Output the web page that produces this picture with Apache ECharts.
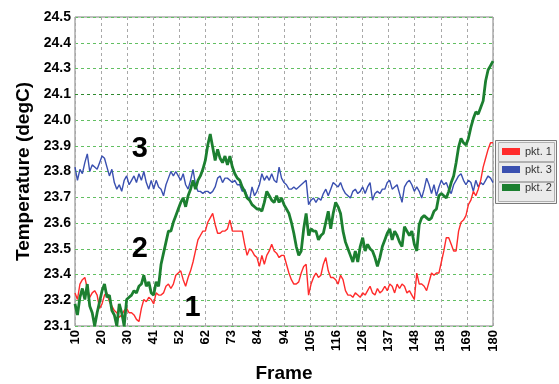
<!DOCTYPE html>
<html>
<head>
<meta charset="utf-8">
<script src="https://cdn.jsdelivr.net/npm/echarts@6/dist/echarts.min.js"></script>
<style>
  html, body { margin: 0; padding: 0; background: #ffffff; }
  #chart { width: 559px; height: 384px; }
</style>
</head>
<body>
<div id="chart"></div>
<script>
// Frame range and axis tick labels
const frameStart = 10;
const frameEnd = 180;
const xTickLabels = ['10', '20', '30', '41', '52', '62', '73', '84', '94', '105', '116', '126', '137', '148', '158', '169', '180'];
const yTickLabels = ['23.1', '23.2', '23.4', '23.5', '23.6', '23.7', '23.8', '23.9', '24.0', '24.1', '24.3', '24.4', '24.5'];
const tempMin = 23.1;
const tempMax = 24.5;

// Temperatures (degC), one value per frame, frames 10..180
const pkt1 = [
  23.25, 23.22, 23.29, 23.31, 23.32, 23.27, 23.23, 23.25, 23.26, 23.24,
  23.18, 23.20, 23.24, 23.25, 23.21, 23.19, 23.17, 23.16, 23.14, 23.15,
  23.17, 23.18, 23.16, 23.16, 23.15, 23.13, 23.12, 23.18, 23.22, 23.21,
  23.23, 23.22, 23.20, 23.25, 23.24, 23.24, 23.25, 23.28, 23.29, 23.27,
  23.29, 23.33, 23.34, 23.35, 23.31, 23.28, 23.32, 23.35, 23.39, 23.44,
  23.49, 23.51, 23.53, 23.53, 23.57, 23.59, 23.61, 23.56, 23.52, 23.52,
  23.53, 23.53, 23.54, 23.58, 23.53, 23.53, 23.53, 23.53, 23.53, 23.47,
  23.42, 23.45, 23.44, 23.42, 23.41, 23.37, 23.42, 23.38, 23.42, 23.44,
  23.47, 23.44, 23.43, 23.41, 23.42, 23.42, 23.38, 23.34, 23.31, 23.29,
  23.29, 23.30, 23.34, 23.37, 23.38, 23.24, 23.29, 23.32, 23.34, 23.32,
  23.33, 23.38, 23.41, 23.35, 23.32, 23.32, 23.31, 23.29, 23.33, 23.31,
  23.26, 23.24, 23.24, 23.23, 23.25, 23.24, 23.23, 23.25, 23.24, 23.26,
  23.28, 23.25, 23.24, 23.27, 23.25, 23.26, 23.28, 23.26, 23.29, 23.28,
  23.25, 23.29, 23.27, 23.29, 23.28, 23.25, 23.26, 23.24, 23.22, 23.34,
  23.29, 23.29, 23.28, 23.26, 23.30, 23.34, 23.33, 23.34, 23.34, 23.39,
  23.44, 23.50, 23.50, 23.47, 23.44, 23.44, 23.53, 23.57, 23.58, 23.60,
  23.65, 23.67, 23.71, 23.69, 23.72, 23.76, 23.82, 23.86, 23.90, 23.93,
  23.93
];
const pkt3 = [
  23.82, 23.76, 23.81, 23.79, 23.84, 23.88, 23.80, 23.83, 23.82, 23.81,
  23.84, 23.87, 23.86, 23.82, 23.78, 23.81, 23.75, 23.72, 23.74, 23.71,
  23.76, 23.78, 23.74, 23.76, 23.78, 23.75, 23.79, 23.76, 23.80, 23.75,
  23.72, 23.76, 23.72, 23.76, 23.73, 23.72, 23.69, 23.74, 23.77, 23.80,
  23.78, 23.80, 23.78, 23.76, 23.79, 23.74, 23.72, 23.76, 23.81, 23.74,
  23.71, 23.71, 23.70, 23.71, 23.71, 23.70, 23.71, 23.73, 23.77, 23.78,
  23.75, 23.77, 23.77, 23.76, 23.75, 23.76, 23.74, 23.74, 23.71, 23.72,
  23.69, 23.67, 23.73, 23.69, 23.71, 23.74, 23.79, 23.76, 23.78, 23.76,
  23.79, 23.76, 23.75, 23.82, 23.77, 23.75, 23.74, 23.72, 23.72, 23.73,
  23.72, 23.73, 23.74, 23.75, 23.76, 23.65, 23.67, 23.68, 23.66, 23.68,
  23.67, 23.70, 23.72, 23.69, 23.72, 23.75, 23.74, 23.73, 23.75, 23.72,
  23.70, 23.69, 23.68, 23.71, 23.72, 23.70, 23.71, 23.73, 23.70, 23.73,
  23.75, 23.67, 23.70, 23.71, 23.70, 23.72, 23.72, 23.75, 23.76, 23.72,
  23.73, 23.74, 23.70, 23.66, 23.73, 23.75, 23.76, 23.74, 23.71, 23.73,
  23.71, 23.68, 23.72, 23.77, 23.74, 23.70, 23.74, 23.69, 23.73, 23.76,
  23.74, 23.75, 23.72, 23.70, 23.74, 23.76, 23.78, 23.79, 23.76, 23.74,
  23.76, 23.75, 23.71, 23.76, 23.73, 23.75, 23.74, 23.76, 23.78, 23.77,
  23.75
];
const pkt2 = [
  23.20, 23.15, 23.23, 23.27, 23.22, 23.29, 23.19, 23.16, 23.10, 23.16,
  23.21, 23.26, 23.29, 23.23, 23.24, 23.17, 23.15, 23.10, 23.20, 23.16,
  23.10, 23.22, 23.23, 23.24, 23.26, 23.25, 23.28, 23.29, 23.33, 23.28,
  23.30, 23.25, 23.24, 23.30, 23.28, 23.38, 23.43, 23.48, 23.53, 23.53,
  23.57, 23.60, 23.63, 23.66, 23.68, 23.64, 23.69, 23.72, 23.76, 23.72,
  23.76, 23.78, 23.81, 23.85, 23.92, 23.97, 23.91, 23.85, 23.90, 23.86,
  23.84, 23.87, 23.83, 23.87, 23.82, 23.79, 23.77, 23.76, 23.73, 23.71,
  23.68, 23.67, 23.65, 23.64, 23.63, 23.63, 23.62, 23.66, 23.71, 23.69,
  23.67, 23.66, 23.69, 23.66, 23.68, 23.65, 23.63, 23.61, 23.57, 23.52,
  23.46, 23.42, 23.44, 23.54, 23.61, 23.51, 23.54, 23.53, 23.53, 23.49,
  23.51, 23.52, 23.57, 23.62, 23.54, 23.61, 23.66, 23.64, 23.61, 23.53,
  23.48, 23.45, 23.42, 23.39, 23.44, 23.39, 23.46, 23.50, 23.44, 23.47,
  23.45, 23.44, 23.41, 23.37, 23.41, 23.46, 23.49, 23.52, 23.54, 23.49,
  23.53, 23.51, 23.48, 23.46, 23.55, 23.53, 23.51, 23.53, 23.47, 23.44,
  23.56, 23.59, 23.60, 23.59, 23.58, 23.59, 23.62, 23.63, 23.69, 23.70,
  23.69, 23.68, 23.71, 23.75, 23.78, 23.84, 23.91, 23.95, 23.93, 23.92,
  23.95, 24.00, 24.04, 24.07, 24.06, 24.09, 24.12, 24.21, 24.26, 24.28,
  24.30
];

// The axes run in step units: x counts frames from frameStart, y counts grid steps from tempMin
const frameSpan = frameEnd - frameStart;
const xStep = frameSpan / (xTickLabels.length - 1);
const yStep = (tempMax - tempMin) / (yTickLabels.length - 1);
const toUnits = t => (t - tempMin) / yStep;
const toPoints = temps => temps.map((t, i) => [i, toUnits(t)]);

const fontFamily = '"Liberation Sans", Arial, Helvetica, sans-serif';

// Big curve tag drawn next to a series
function curveTag(text, frame, temp) {
  return {
    symbol: 'rect',
    symbolSize: 1,
    silent: true,
    itemStyle: { color: 'rgba(0,0,0,0)' },
    label: {
      show: true,
      position: 'inside',
      formatter: text,
      fontSize: 29,
      fontWeight: 'bold',
      color: '#000000',
      fontFamily: fontFamily
    },
    data: [{ coord: [frame - frameStart, toUnits(temp)] }]
  };
}

const chart = echarts.init(document.getElementById('chart'), null, { renderer: 'canvas' });

// Legend frame: an outer box and one box per entry
const legendBoxes = [
  { type: 'rect', shape: { x: 495.5, y: 140.5, width: 61, height: 63 },
    style: { fill: '#f2f2f2', stroke: '#7a7a7a', lineWidth: 1 }, z: 0 }
];
for (let i = 0; i < 3; i++) {
  legendBoxes.push({
    type: 'rect', shape: { x: 498.5, y: 142.5 + i * 20, width: 56, height: 19 },
    style: { fill: '#ebebeb', stroke: '#b0b0b0', lineWidth: 1 }, z: 1
  });
}

chart.setOption({
  animation: false,
  backgroundColor: '#ffffff',
  textStyle: { fontFamily: fontFamily },
  grid: {
    left: 75, top: 17, width: 418, height: 309,
    containLabel: false,
    outerBoundsMode: 'none',
    show: true, borderColor: '#808080', borderWidth: 1, backgroundColor: '#ffffff'
  },
  legend: {
    data: ['pkt. 1', 'pkt. 3', 'pkt. 2'],
    orient: 'vertical',
    left: 502, top: 146,
    padding: 0,
    itemWidth: 18, itemHeight: 7, itemGap: 7,
    icon: 'rect',
    textStyle: { fontSize: 11, color: '#333333', fontFamily: fontFamily }
  },
  graphic: legendBoxes,
  xAxis: {
    type: 'value',
    min: 0, max: frameSpan, interval: xStep,
    name: 'Frame', nameLocation: 'middle', nameGap: 38,
    nameTextStyle: { fontSize: 19, fontWeight: 'bold', color: '#000000' },
    axisLine: { show: false },
    axisTick: { show: false },
    axisLabel: {
      rotate: 90, margin: 4, fontSize: 13, fontWeight: 'bold', color: '#000000',
      formatter: v => xTickLabels[Math.round(v / xStep)]
    },
    splitLine: { show: true, lineStyle: { color: '#a8a8a8', type: [3, 3], width: 1 } }
  },
  yAxis: {
    type: 'value',
    min: 0, max: yTickLabels.length - 1, interval: 1,
    name: 'Temperature (degC)', nameLocation: 'middle', nameGap: 41,
    nameTextStyle: { fontSize: 19, fontWeight: 'bold', color: '#000000' },
    axisLine: { show: false },
    axisTick: { show: false },
    axisLabel: {
      margin: 4, fontSize: 14, fontWeight: 'bold', color: '#000000',
      formatter: v => yTickLabels[Math.round(v)]
    },
    splitLine: {
      show: true,
      lineStyle: {
        color: yTickLabels.map(l => (l === '24.1' ? '#2f8a2f' : '#62bf62')),
        type: [3, 3], width: 1
      }
    }
  },
  series: [
    {
      name: 'pkt. 1', type: 'line', data: toPoints(pkt1),
      showSymbol: false, symbol: 'none',
      lineStyle: { color: '#ff2b2b', width: 1.4 }, itemStyle: { color: '#ff2b2b' },
      z: 3,
      markPoint: curveTag('1', 57.8, 23.18)
    },
    {
      name: 'pkt. 3', type: 'line', data: toPoints(pkt3),
      showSymbol: false, symbol: 'none',
      lineStyle: { color: '#3a50b0', width: 1.4 }, itemStyle: { color: '#3a50b0' },
      z: 2,
      markPoint: curveTag('3', 36.4, 23.90)
    },
    {
      name: 'pkt. 2', type: 'line', data: toPoints(pkt2),
      showSymbol: false, symbol: 'none',
      lineStyle: { color: '#1c7f30', width: 2.8 }, itemStyle: { color: '#1c7f30' },
      z: 4,
      markPoint: curveTag('2', 36.4, 23.45)
    }
  ]
});
</script>
</body>
</html>
